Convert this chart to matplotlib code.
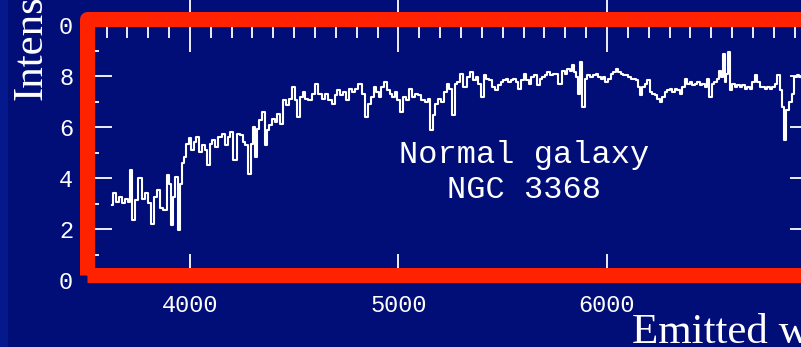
import numpy as np
import matplotlib
matplotlib.use("Agg")
import matplotlib.pyplot as plt
from matplotlib import patches
from matplotlib.transforms import blended_transform_factory

wavelength = [
    3624, 3640, 3651, 3664, 3680, 3696, 3709, 3717, 3728, 3744, 3760, 3776,
    3792, 3808, 3821, 3835, 3848, 3864, 3880, 3896, 3904, 3915, 3925, 3936,
    3946, 3955, 3965, 3976, 3987, 4000, 4013, 4024, 4035, 4048, 4064, 4077,
    4088, 4101, 4115, 4128, 4144, 4160, 4176, 4189, 4200, 4216, 4232, 4248,
    4261, 4272, 4288, 4301, 4307, 4320, 4328, 4339, 4352, 4365, 4376, 4387,
    4400, 4413, 4424, 4440, 4456, 4469, 4480, 4496, 4509, 4520, 4533, 4547,
    4560, 4576, 4592, 4608, 4624, 4640, 4656, 4672, 4688, 4701, 4712, 4728,
    4744, 4755, 4768, 4784, 4800, 4816, 4832, 4848, 4861, 4877, 4888, 4901,
    4912, 4925, 4939, 4952, 4965, 4976, 4989, 5000, 5016, 5032, 5045, 5056,
    5072, 5085, 5101, 5117, 5133, 5147, 5160, 5170, 5183, 5199, 5212, 5223,
    5239, 5250, 5263, 5276, 5287, 5303, 5319, 5335, 5351, 5364, 5375, 5391,
    5402, 5415, 5428, 5439, 5455, 5471, 5484, 5495, 5508, 5519, 5532, 5543,
    5556, 5567, 5583, 5596, 5607, 5620, 5631, 5644, 5655, 5671, 5684, 5695,
    5708, 5719, 5735, 5748, 5759, 5775, 5791, 5804, 5815, 5826, 5836, 5847,
    5855, 5866, 5876, 5887, 5900, 5911, 5927, 5940, 5951, 5964, 5975, 5986,
    5999, 6012, 6023, 6036, 6047, 6060, 6071, 6084, 6095, 6108, 6119, 6132,
    6143, 6156, 6164, 6175, 6188, 6199, 6210, 6223, 6236, 6247, 6258, 6271,
    6284, 6295, 6308, 6319, 6332, 6343, 6356, 6367, 6378, 6391, 6404, 6415,
    6428, 6439, 6452, 6463, 6476, 6487, 6495, 6508, 6519, 6532, 6543, 6553,
    6559, 6569, 6575, 6585, 6594, 6607, 6620, 6631, 6644, 6655, 6668, 6679,
    6692, 6703, 6714, 6727, 6740, 6751, 6764, 6775, 6788, 6799, 6812, 6823,
    6834, 6844, 6855, 6866, 6879, 6892, 6903, 6916, 6927,
]
intensity = [
    2.94, 3.40, 3.07, 3.27, 3.01, 3.20, 3.07, 4.31, 2.35, 3.14, 3.99, 3.20,
    3.40, 3.01, 2.22, 3.27, 3.53, 2.81, 2.75, 4.12, 3.79, 2.16, 3.27, 4.05,
    1.96, 3.79, 4.58, 4.84, 5.36, 5.56, 5.10, 5.43, 5.62, 5.03, 5.29, 5.10,
    4.51, 5.36, 5.49, 5.23, 5.62, 5.75, 5.29, 5.62, 5.82, 4.71, 5.75, 5.69,
    5.43, 5.29, 4.18, 5.36, 6.01, 4.84, 5.95, 6.27, 6.60, 5.29, 5.88, 6.08,
    6.34, 6.21, 6.54, 6.14, 7.06, 6.86, 7.12, 7.58, 7.06, 6.41, 7.19, 7.39,
    7.12, 7.06, 7.32, 7.71, 7.32, 7.12, 7.32, 7.06, 6.93, 7.26, 7.45, 7.26,
    7.39, 7.06, 7.52, 7.39, 7.52, 7.71, 7.32, 6.41, 6.93, 7.19, 7.58, 7.39,
    7.19, 7.58, 7.78, 7.45, 7.32, 7.19, 7.39, 7.06, 6.60, 7.19, 7.06, 7.52,
    7.19, 7.32, 7.26, 7.06, 6.99, 7.12, 5.88, 6.47, 6.93, 7.12, 6.99, 7.38,
    7.71, 7.51, 6.47, 7.71, 7.78, 8.10, 7.58, 7.97, 8.17, 7.84, 7.97, 7.71,
    7.19, 8.04, 7.91, 7.84, 7.58, 7.45, 7.65, 7.78, 7.84, 7.91, 7.78, 7.84,
    7.91, 7.78, 7.51, 7.84, 8.10, 7.84, 7.71, 7.97, 8.04, 7.65, 7.91, 7.97,
    8.04, 8.17, 8.04, 8.10, 8.10, 7.71, 8.23, 8.10, 8.30, 8.23, 8.43, 8.17,
    7.97, 7.32, 8.56, 6.80, 7.91, 8.04, 7.97, 8.04, 8.10, 7.97, 7.91, 7.97,
    7.78, 7.91, 8.10, 8.17, 8.30, 8.17, 8.10, 8.04, 8.04, 7.97, 7.91, 7.91,
    7.84, 7.58, 7.25, 7.58, 7.71, 7.84, 7.38, 7.32, 7.25, 7.12, 6.99, 7.19,
    7.38, 7.45, 7.51, 7.38, 7.51, 7.45, 7.32, 7.58, 7.91, 7.71, 7.78, 7.65,
    7.71, 7.78, 7.65, 7.71, 7.58, 7.91, 7.19, 7.71, 7.78, 7.91, 8.23, 7.97,
    8.89, 7.78, 8.10, 8.95, 7.45, 7.71, 7.58, 7.65, 7.58, 7.65, 7.51, 7.58,
    7.51, 7.78, 8.04, 7.78, 7.58, 7.58, 7.51, 7.58, 7.51, 7.58, 7.71, 8.04,
    7.45, 6.80, 5.49, 6.67, 6.99, 7.32, 7.97, 8.04, 7.97,
]

x_major = [4000, 5000, 6000]
y_major = [0, 2, 4, 6, 8, 10]
y_labels = ["0", "2", "4", "6", "8", "0"]

BG = "#020e78"
STRIP = "#06198c"
RED = "#ff2200"
W, H = 801, 347

fig = plt.figure(figsize=(W / 100, H / 100), dpi=100, facecolor=BG)

# lighter strip on the far left of the slide
fig.patches.append(patches.Rectangle((0, 0), 8 / W, 1, transform=fig.transFigure,
                                     facecolor=STRIP, edgecolor="none", zorder=0))

ax = fig.add_axes([94 / W, 67 / H, 714 / W, 254.5 / H])
ax.set_facecolor(BG)
ax.plot(wavelength, intensity, color="white", lw=1.5, drawstyle="steps-mid")
ax.set_xlim(3540, 6964)
ax.set_ylim(0, 10)

for s in ax.spines.values():
    s.set_color("white")
    s.set_linewidth(1.2)

ax.set_xticks(x_major)
ax.set_xticks(np.arange(3600, 6964, 100), minor=True)
ax.set_yticks(y_major)
ax.set_yticklabels(y_labels)
ax.set_yticks(np.arange(1, 10, 2), minor=True)

ax.tick_params(axis="both", which="both", direction="in", colors="white",
               top=True, right=True, width=1.3)
ax.tick_params(axis="x", which="major", length=19, pad=10)
ax.tick_params(axis="x", which="minor", length=8.5)
ax.tick_params(axis="y", which="major", length=13, pad=15)
ax.tick_params(axis="y", which="minor", length=3.5)
for lab in ax.get_xticklabels() + ax.get_yticklabels():
    lab.set_family("Liberation Mono")
    lab.set_fontsize(17)

# major ticks carried on above the top axis
trans = blended_transform_factory(ax.transData, ax.transAxes)
ax.vlines(x_major, 1.0, 1.12, transform=trans, color="white", lw=1.3, clip_on=False)

ax.text(5602, 4.59, "Normal galaxy", color="white", ha="center", va="baseline",
        family="Liberation Mono", fontsize=23)
ax.text(5602, 3.22, "NGC 3368", color="white", ha="center", va="baseline",
        family="Liberation Mono", fontsize=23)

fig.text(632 / W, (H - 343) / H, "Emitted wavelength", color="white",
         ha="left", va="baseline", family="Liberation Serif", fontsize=31)
fig.text(31 / W, (H - 100) / H, "Intensity", color="white", rotation=90,
         ha="center", va="bottom", family="Liberation Serif", fontsize=31)

# red highlight frame
fig.patches.append(patches.Rectangle((86.5 / W, (H - 274.5) / H), (830 - 86.5) / W,
                                     256 / H, transform=fig.transFigure, fill=False,
                                     edgecolor=RED, lw=10.8, joinstyle="round", zorder=5))

fig.savefig("out.png", dpi=100, facecolor=BG)
